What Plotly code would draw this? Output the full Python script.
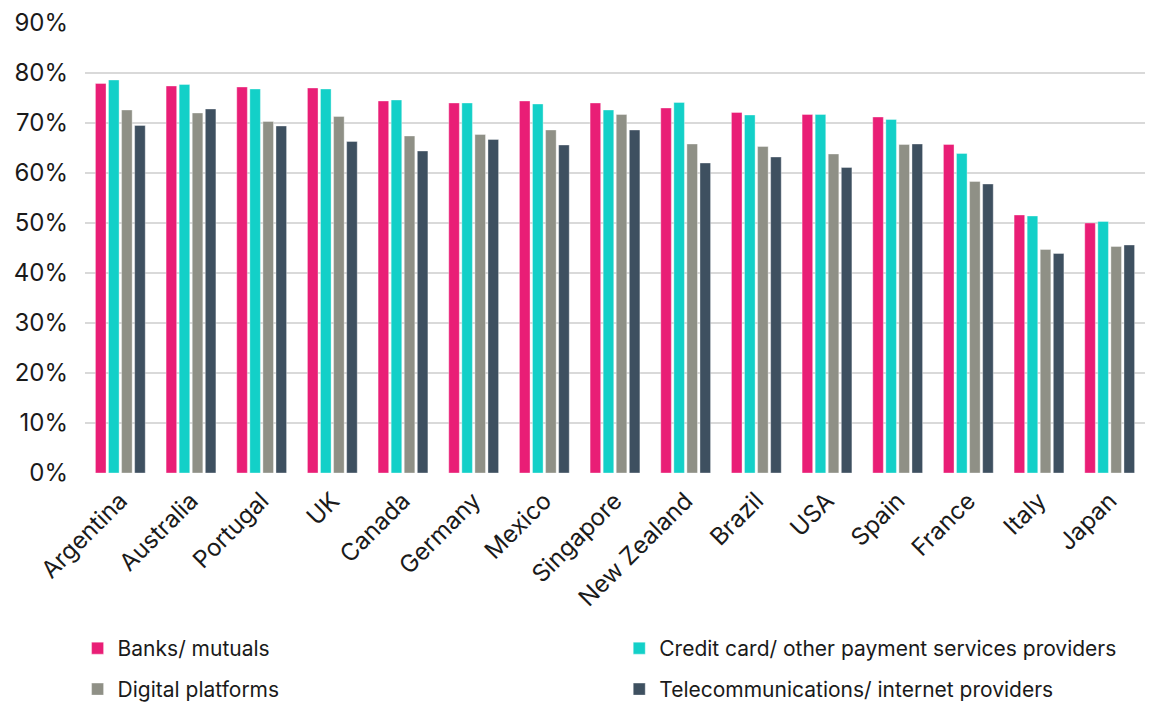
import plotly.graph_objects as go

countries = ["Argentina", "Australia", "Portugal", "UK", "Canada", "Germany", "Mexico",
             "Singapore", "New Zealand", "Brazil", "USA", "Spain", "France", "Italy", "Japan"]
banks = [77.9, 77.4, 77.2, 77.0, 74.4, 74.0, 74.4, 74.0, 73.0, 72.1, 71.7, 71.2, 65.7, 51.6, 50.0]
credit = [78.6, 77.7, 76.8, 76.8, 74.6, 74.0, 73.8, 72.6, 74.1, 71.6, 71.7, 70.7, 63.9, 51.4, 50.3]
digital = [72.6, 72.0, 70.3, 71.3, 67.4, 67.7, 68.6, 71.7, 65.8, 65.3, 63.8, 65.7, 58.3, 44.7, 45.3]
telecom = [69.5, 72.8, 69.4, 66.3, 64.4, 66.7, 65.6, 68.6, 62.0, 63.2, 61.1, 65.8, 57.8, 43.9, 45.6]

series = [
    ("Banks/ mutuals", banks, "#E91E76", "legend"),
    ("Credit card/ other payment services providers", credit, "#13D0C8", "legend2"),
    ("Digital platforms", digital, "#8F9086", "legend3"),
    ("Telecommunications/ internet providers", telecom, "#3E5060", "legend4"),
]

fig = go.Figure()
for name, vals, color, lg in series:
    fig.add_trace(go.Bar(
        x=countries, y=[v / 100 for v in vals], name=name, showlegend=True,
        marker=dict(color=color, line=dict(color="rgba(255,255,255,0.6)", width=0.6)),
        legend=lg,
    ))

legend_common = dict(
    orientation="h", xanchor="left", yanchor="middle",
    font=dict(family="Inter", size=21, color="#1a1a1a"),
    bgcolor="rgba(0,0,0,0)", itemwidth=30,
)
col1, col2 = -0.007, 0.504
row1, row2 = -0.39, -0.481

fig.update_layout(
    width=1150, height=702, showlegend=True,
    margin=dict(l=85, r=5, t=23, b=229, autoexpand=False),
    paper_bgcolor="white", plot_bgcolor="white",
    barmode="group", bargap=0.26, bargroupgap=0.19,
    font=dict(family="Inter", size=24, color="#1a1a1a"),
    legend=dict(x=col1, y=row1, **legend_common),
    legend2=dict(x=col2, y=row1, **legend_common),
    legend3=dict(x=col1, y=row2, **legend_common),
    legend4=dict(x=col2, y=row2, **legend_common),
    xaxis=dict(tickangle=-45, tickfont=dict(size=24), showgrid=False,
               showline=False, ticks="", automargin=False, ticklabelstandoff=8),
    yaxis=dict(range=[0, 0.9], tickformat=".0%", dtick=0.1,
               gridcolor="#D9D9D9", gridwidth=1.5, zeroline=False,
               showline=False, ticks="", ticklabelstandoff=16, automargin=False,
               tickfont=dict(size=24)),
)

fig.write_html("out.html")
